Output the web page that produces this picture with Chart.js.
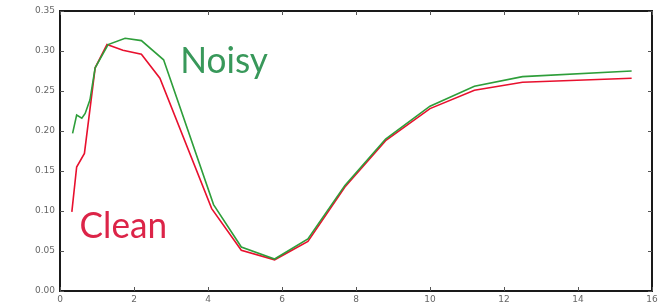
<!DOCTYPE html>
<html>
<head>
<meta charset="utf-8">
<script src="https://cdn.jsdelivr.net/npm/chart.js@4/dist/chart.umd.min.js"></script>
<style>
html,body{margin:0;padding:0;background:#fff;}
canvas{display:block;}
</style>
</head>
<body>
<canvas id="c" width="661" height="307"></canvas>
<script>
// Data
const noisyX = [0.34, 0.45, 0.59, 0.68, 0.81, 0.95, 1.3, 1.76, 2.2, 2.8, 4.15, 4.9, 5.8, 6.7, 7.7, 8.8, 10.0, 11.2, 12.5, 15.45];
const noisyY = [0.197, 0.220, 0.216, 0.222, 0.239, 0.279, 0.308, 0.316, 0.313, 0.289, 0.108, 0.055, 0.040, 0.065, 0.132, 0.190, 0.231, 0.256, 0.268, 0.275];
const cleanX = [0.32, 0.45, 0.66, 0.95, 1.27, 1.7, 2.2, 2.7, 4.1, 4.9, 5.8, 6.7, 7.7, 8.8, 10.0, 11.2, 12.5, 15.45];
const cleanY = [0.099, 0.155, 0.172, 0.279, 0.308, 0.301, 0.296, 0.266, 0.103, 0.051, 0.039, 0.062, 0.130, 0.188, 0.228, 0.251, 0.261, 0.266];
const xTicks = [0, 2, 4, 6, 8, 10, 12, 14, 16];
const yTicks = [0.00, 0.05, 0.10, 0.15, 0.20, 0.25, 0.30, 0.35];
const seriesNames = ["Noisy", "Clean"];

const toPts = (xs, ys) => xs.map((x, i) => ({x: x, y: ys[i]}));

const framePlugin = {
  id: 'frame',
  afterDraw(chart) {
    const {ctx, chartArea: a, scales} = chart;
    ctx.save();
    ctx.strokeStyle = '#1a1a1a';
    ctx.lineWidth = 2;
    ctx.strokeRect(a.left, a.top, a.right - a.left, a.bottom - a.top);
    ctx.lineWidth = 1;
    ctx.strokeStyle = '#555';
    const L = 4;
    xTicks.forEach(v => {
      const px = Math.round(scales.x.getPixelForValue(v)) + 0.5;
      ctx.beginPath();
      ctx.moveTo(px, a.bottom); ctx.lineTo(px, a.bottom - L);
      ctx.moveTo(px, a.top); ctx.lineTo(px, a.top + L);
      ctx.stroke();
    });
    yTicks.forEach(v => {
      const py = Math.round(scales.y.getPixelForValue(v)) + 0.5;
      ctx.beginPath();
      ctx.moveTo(a.left, py); ctx.lineTo(a.left + L, py);
      ctx.moveTo(a.right, py); ctx.lineTo(a.right - L, py);
      ctx.stroke();
    });
    // series labels (slightly condensed, like the reference)
    ctx.textBaseline = 'alphabetic';
    ctx.textAlign = 'left';
    ctx.font = '37px Lato';
    const drawLabel = (txt, color, x, y) => {
      ctx.save();
      ctx.translate(scales.x.getPixelForValue(x), scales.y.getPixelForValue(y));
      ctx.scale(0.95, 1);
      ctx.fillStyle = color;
      ctx.fillText(txt, 0, 0);
      ctx.restore();
    };
    drawLabel(seriesNames[0], '#38985a', 3.25, 0.273);
    drawLabel(seriesNames[1], '#dc2448', 0.53, 0.066);
    ctx.restore();
  }
};

new Chart(document.getElementById('c'), {
  type: 'scatter',
  data: {
    datasets: [
      {label: seriesNames[0], data: toPts(noisyX, noisyY), showLine: true, borderColor: '#2e9e3a', borderWidth: 1.6, pointRadius: 0, tension: 0, fill: false},
      {label: seriesNames[1], data: toPts(cleanX, cleanY), showLine: true, borderColor: '#e8102e', borderWidth: 1.6, pointRadius: 0, tension: 0, fill: false}
    ]
  },
  options: {
    responsive: false,
    animation: false,
    layout: {padding: {top: 11, right: 9, left: 0, bottom: 0}},
    plugins: {legend: {display: false}, tooltip: {enabled: false}},
    scales: {
      x: {
        type: 'linear', min: 0, max: 16,
        afterBuildTicks(s) { s.ticks = xTicks.map(v => ({value: v})); },
        afterFit(s) { s.height = 16; },
        grid: {display: false, drawTicks: false},
        border: {display: false},
        ticks: {color: '#666', font: {family: 'DejaVu Sans', size: 9}, padding: 3, maxRotation: 0, autoSkip: false}
      },
      y: {
        type: 'linear', min: 0, max: 0.35,
        afterBuildTicks(s) { s.ticks = yTicks.map(v => ({value: v})); },
        afterFit(s) { s.width = 60; },
        grid: {display: false, drawTicks: false},
        border: {display: false},
        ticks: {color: '#666', font: {family: 'DejaVu Sans', size: 9}, padding: 5, autoSkip: false,
          callback: v => Number(v).toFixed(2)}
      }
    }
  },
  plugins: [framePlugin]
});
</script>
</body>
</html>
